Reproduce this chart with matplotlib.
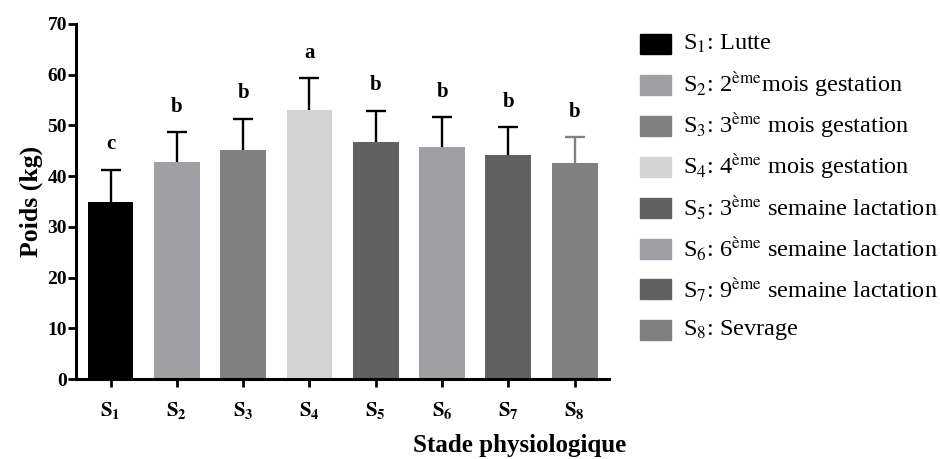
import matplotlib
matplotlib.use('Agg')
from matplotlib import pyplot as plt
from matplotlib.patches import Rectangle

plt.rcParams['font.family'] = ['Liberation Serif', 'DejaVu Serif']
plt.rcParams['mathtext.fontset'] = 'stix'

stades = ['S1', 'S2', 'S3', 'S4', 'S5', 'S6', 'S7', 'S8']
poids = [34.9, 42.7, 45.2, 53.1, 46.7, 45.7, 44.1, 42.6]
ecart = [6.4, 5.9, 6.1, 6.2, 6.2, 5.9, 5.6, 5.1]
lettres = ['c', 'b', 'b', 'a', 'b', 'b', 'b', 'b']
couleurs = ['#000000', '#a0a0a4', '#808080', '#d4d4d4',
            '#616161', '#a0a0a4', '#616161', '#808080']
err_couleurs = ['black'] * 7 + ['#808080']
legende = [
    u'S$_1$: Lutte',
    u'S$_2$: 2$^{\\mathrm{ème}}$mois gestation',
    u'S$_3$: 3$^{\\mathrm{ème}}$ mois gestation',
    u'S$_4$: 4$^{\\mathrm{ème}}$ mois gestation',
    u'S$_5$: 3$^{\\mathrm{ème}}$ semaine lactation',
    u'S$_6$: 6$^{\\mathrm{ème}}$ semaine lactation',
    u'S$_7$: 9$^{\\mathrm{ème}}$ semaine lactation',
    u'S$_8$: Sevrage',
]

f1 = plt.figure(figsize=(9.4, 4.59), dpi=100)
ax = f1.add_axes([0.081, 0.174, 0.567, 0.774])

x = list(range(len(stades)))
ax.bar(x, poids, width=0.69, color=couleurs, zorder=2)
for i in x:
    eb = ax.errorbar(i, poids[i], yerr=[[0], [ecart[i]]], fmt='none',
                     ecolor=err_couleurs[i], elinewidth=1.7, capsize=7.5,
                     capthick=1.7, zorder=1)
    eb[1][0].set_visible(False)  # pas de trait en bas
    ax.text(i, poids[i] + ecart[i] + 5, lettres[i], ha='center', va='center',
            fontsize=15, fontweight='bold')

ax.set_xlim(-0.52, 7.52)
ax.set_ylim(0, 70)
ax.set_yticks(range(0, 71, 10))
ax.set_xticks(x)
ax.set_xticklabels([r'$\mathbf{S_%s}$' % s[1:] for s in stades])

for side in ('top', 'right'):
    ax.spines[side].set_visible(False)
for side in ('left', 'bottom'):
    ax.spines[side].set_linewidth(2.2)

ax.tick_params(axis='y', length=5.5, width=2, labelsize=14, pad=1)
ax.tick_params(axis='x', length=6, width=2, labelsize=15, pad=9)
for lab in ax.get_yticklabels():
    lab.set_fontweight('bold')

ax.set_ylabel('Poids (kg)', fontsize=18.5, fontweight='bold', labelpad=3)
f1.text(0.553, 0.03, 'Stade physiologique', ha='center', va='center',
        fontsize=18, fontweight='bold')

# legende a droite
y0 = 1 - 44 / 459.0
dy = 40.9 / 459.0
for k, (lab, c) in enumerate(zip(legende, couleurs)):
    yc = y0 - k * dy
    f1.add_artist(Rectangle((640 / 940.0, yc - 10 / 459.0), 31 / 940.0, 20 / 459.0,
                            transform=f1.transFigure, color=c))
    f1.text(683 / 940.0, yc, lab, ha='left', va='center', fontsize=17.5)

f1.savefig('out.png', dpi=100)
